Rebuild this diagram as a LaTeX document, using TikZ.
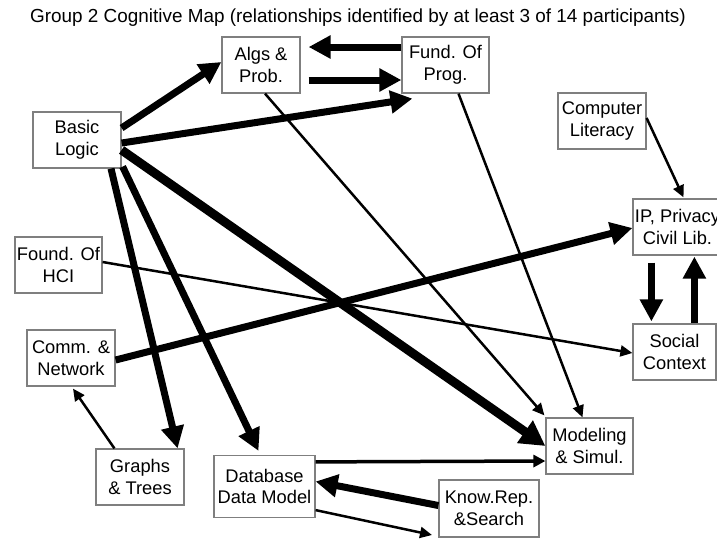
\documentclass[tikz,border=0pt]{standalone}
\usepackage{fontspec}
\setmainfont{Liberation Sans}
\usepackage{xcolor}
\usetikzlibrary{calc,arrows.meta}
\definecolor{frame}{HTML}{7F7F7F}
\definecolor{ink}{HTML}{000000}
\tikzset{
  box/.style={draw=frame, line width=1.2pt, fill=white, align=center, inner sep=0pt,
    minimum height=56pt, font=\fontsize{18.3}{21.7}\selectfont},
  heavyarr/.style={draw=ink, line width=9pt, -{Triangle[length=25pt,width=26pt]}},
  thickarr/.style={draw=ink, line width=7pt, -{Triangle[length=22pt,width=22pt]}},
  medarr/.style={draw=ink, line width=3.5pt, -{Triangle[length=12pt,width=12pt]}},
  thinarr/.style={draw=ink, line width=2.5pt, -{Triangle[length=12pt,width=11pt]}},
  ttl/.style={font=\fontsize{18.9}{21}\selectfont}
}
\begin{document}
\begin{tikzpicture}[x=1pt,y=-1pt]
  \useasboundingbox (0,0) rectangle (717,539);

  \node[ttl] (title) at (358,18) {Group 2 Cognitive Map (relationships identified by at least 3 of 14 participants)};

  \node[box, minimum width=78pt] (algs) at (261,65) {Algs \&\\Prob.};
  \node[box, minimum width=87pt] (prog) at (445.5,65) {Fund. Of\\Prog.};
  \node[box, minimum width=88pt] (logic) at (77,140) {Basic\\Logic};
  \node[box, minimum width=88pt] (lit) at (602,121) {Computer\\Literacy};
  \node[box, minimum width=89pt] (ip) at (677.5,227) {IP, Privacy\\Civil Lib.};
  \node[box, minimum width=83pt] (social) at (674.5,352) {Social\\Context};
  \node[box, minimum width=87pt] (hci) at (58.5,265) {Found. Of\\HCI};
  \node[box, minimum width=88pt] (comm) at (71,358) {Comm. \&\\Network};
  \node[box, minimum width=88pt] (graphs) at (140,477) {Graphs\\\& Trees};
  \node[box, minimum width=101pt, minimum height=62pt] (db) at (264.5,486.5) {Database\\Data Model};
  \node[box, minimum width=100pt, minimum height=57pt] (know) at (489,508.5) {Know.Rep.\\\&Search};
  \node[box, minimum width=87pt] (model) at (589.5,446) {Modeling\\\& Simul.};
  \coordinate (kout) at (432,535);

  % from Basic Logic
  \draw[thickarr] ($(logic.east)+(0,-12)$) -- ($(algs.west)+(0,-3)$);
  \draw[thickarr] ($(logic.east)+(0,3)$) -- ($(prog.south west)+(11,5)$);
  \draw[heavyarr] ($(logic.east)+(0,10)$) -- (model.west);
  \draw[thickarr] ($(logic.south)+(34,0)$) -- ($(graphs.north east)+(-7,0)$);
  \draw[thickarr] ($(logic.south east)+(1,-2)$) -- ($(db.north)+(-6,-4)$);

  \draw[thickarr] ($(prog.west)+(0,-18)$) -- ($(algs.east)+(8,-18)$);
  \draw[thickarr] ($(algs.east)+(8,15)$) -- ($(prog.west)+(0,15)$);
  \draw[thinarr] ($(algs.south)+(4,0)$) -- ($(model.north west)+(-1,-2)$);
  \draw[thinarr] ($(prog.south)+(13,0)$) -- ($(model.north)+(-7,0)$);

  \draw[thickarr] ($(comm.east)+(0,2)$) -- ($(ip.west)+(0,1)$);
  \draw[thinarr] ($(hci.east)+(0,-3)$) -- ($(social.west)+(0,1)$);
  \draw[thinarr] ($(lit.east)+(0,-3)$) -- ($(ip.north)+(6,-1)$);
  \draw[thickarr] ($(ip.south west)+(19,7)$) -- ($(social.north west)+(19,-2)$);
  \draw[thickarr] ($(social.north west)+(62,0)$) -- ($(ip.south west)+(62,1)$);

  \draw[thinarr] ($(graphs.north west)+(19,0)$) -- ($(comm.south)+(2,2)$);
  \draw[medarr] ($(db.north east)+(0,7)$) -- ($(model.west)+(0,15)$);
  \draw[thickarr] ($(know.west)+(0,-3)$) -- ($(db.east)+(0,-5)$);
  \draw[thinarr] ($(db.south east)+(0,-8)$) -- (kout);
\end{tikzpicture}
\end{document}
